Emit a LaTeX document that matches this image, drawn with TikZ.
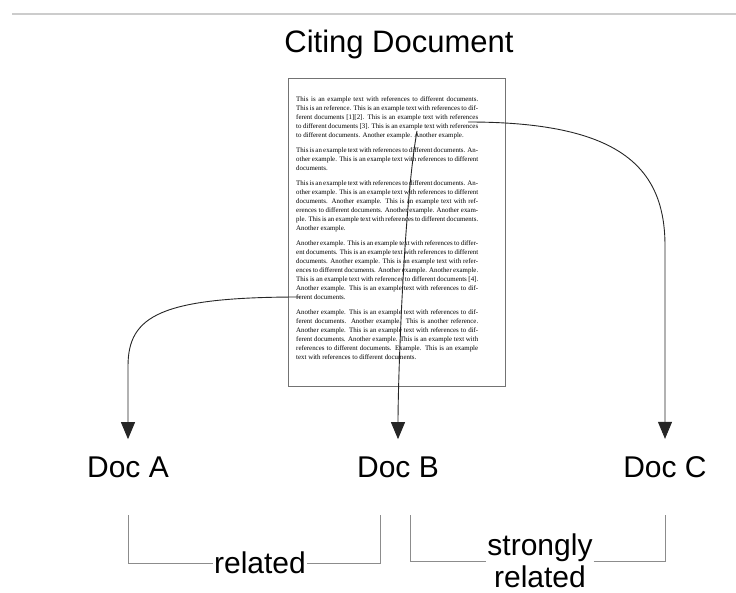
\documentclass[tikz,border=0pt]{standalone}
\usepackage{fontspec}
\setmainfont{Liberation Sans}
\newfontfamily\pagefont{Liberation Serif}
\usetikzlibrary{arrows.meta}
\usetikzlibrary{positioning}
\usetikzlibrary{calc}
\tikzset{doc/.style={font=\fontsize{30}{36}\selectfont, inner sep=0pt},
            cite/.style={draw=black!85, line width=0.9pt,
            -{Triangle[width=14pt,length=17pt]}, shorten >=17pt},
            rel/.style={draw=black!45, line width=1pt},
            relname/.style={font=\fontsize{30}{32}\selectfont, inner sep=1pt, align=center},
            pagebody/.style={text width=182pt, inner sep=0pt, align=justify,
            font=\pagefont\fontsize{6.9}{9}\selectfont}}

\begin{document}
\begin{tikzpicture}[x=1pt,y=-1pt]
\useasboundingbox (0,0) rectangle (736,593);
\draw [black!20, line width=2.5pt] (12,14) -- (736,14);
%
\node [doc, anchor=base, font=\fontsize{31}{36}\selectfont] (title) at (399,53) {Citing Document};
\node [draw=black!55, line width=1pt, minimum width=217pt, minimum height=308pt,
    anchor=north west] (page) at (288,78) {};
\node [pagebody, anchor=north west] (body) at ([xshift=8pt,yshift=-18pt]page.north west)
    {\setlength{\parskip}{6pt}%
    This is an example text with references to different documents. This is an
    reference. This is an example text with references to different documents [1][2].
    This is an example text with references to different documents [3]. This is an
    example text with references to different documents. Another example.
    Another example.\par
    This is an example text with references to different documents. Another
    example. This is an example text with references to different documents.\par
    This is an example text with references to different documents. Another
    example. This is an example text with references to different documents.
    Another example. This is an example text with references to different documents.
    Another example. Another example. This is an example text with references to
    different documents. Another example.\par
    Another example. This is an example text with references to different documents.
    This is an example text with references to different documents. Another example.
    This is an example text with references to different documents. Another example.
    Another example. This is an example text with references to different documents
    [4]. Another example. This is an example text with references to different documents.\par
    Another example. This is an example text with references to different documents.
    Another example. This is another reference. Another example. This is an example
    text with references to different documents. Another example. This is an example
    text with references to different documents. Example. This is an example text
    with references to different documents.\par};
%
\coordinate (refA) at (300,297);
\coordinate (refB) at (417,131);
\coordinate (refC) at (468,122);
%
\node [doc, anchor=base] (docA) at (128,477) {Doc A};
\node [doc, anchor=base] (docB) at (398,477) {Doc B};
\node [doc, anchor=base] (docC) at (665,477) {Doc C};
%
\draw [cite] (refA) .. controls +(-140,0) and +(0,-50) .. ($(docA.north)+(0,-90)$)
    -- (docA.north);
\draw [cite] (refB) to[out=-100,in=90,looseness=0.6] (docB.north);
\draw [cite] (refC) .. controls +(150,0) and +(0,-80) .. ($(docC.north)+(0,-210)$)
    -- (docC.north);
%
\node [relname] (relAB) at (260,563) {related};
\node [relname] (relBC) at (540,561) {strongly\\related};
\draw [rel] ($(docA.south)+(0,38)$) |- (relAB.west);
\draw [rel] (relAB.east) -| ($(docB.south)+(-18,38)$);
\draw [rel] ($(docB.south)+(12,38)$) |- (relBC.west);
\draw [rel] (relBC.east) -| ($(docC.south)+(0,38)$);
\end{tikzpicture}
\end{document}
